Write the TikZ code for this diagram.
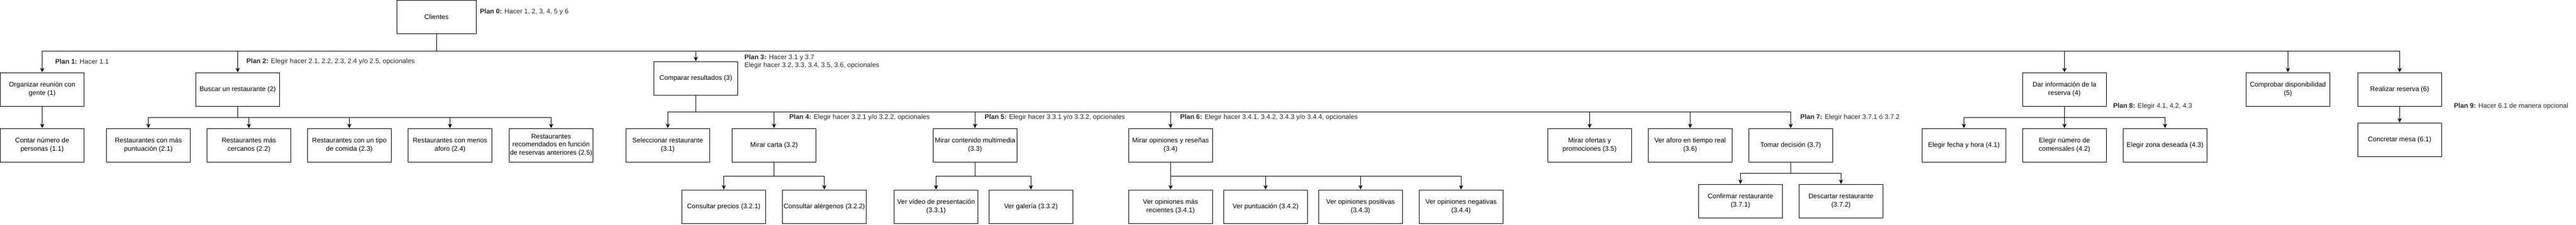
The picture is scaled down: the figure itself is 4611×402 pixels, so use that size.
\documentclass[tikz,border=0pt]{standalone}
\usepackage{fontspec}
\setmainfont{Liberation Sans}
\usetikzlibrary{arrows.meta}
\tikzset{
  box/.style={draw, line width=1pt, minimum width=150pt, minimum height=60pt, inner sep=0pt, align=center, font=\fontsize{12}{14.4}\selectfont},
  plan/.style={anchor=west, inner sep=0pt, align=left, font=\fontsize{12}{14}\selectfont, text=black!85},
  arr/.style={line width=1pt, -{Stealth[length=8pt,width=7.5pt,inset=2.5pt]}},
  ln/.style={line width=1pt}
}
\begin{document}
\begin{tikzpicture}[x=1pt,y=1pt]
\useasboundingbox (0,0) rectangle (4611,-402);
% top
\node[box, minimum width=142pt] (c0) at (781.4,-30.5) {Clientes};
% level 1
\node[box] (n1) at (75.5,-160) {Organizar reunión con\\gente (1)};
\node[box] (n2) at (425.5,-160) {Buscar un restaurante (2)};
\node[box] (n3) at (1245.5,-140) {Comparar resultados (3)};
\node[box] (n4) at (3695.3,-160) {Dar información de la\\reserva (4)};
\node[box] (n5) at (4095.3,-160) {Comprobar disponibilidad\\(5)};
\node[box] (n6) at (4295.3,-160) {Realizar reserva (6)};
% level 2
\node[box] (n11) at (75.5,-260) {Contar número de\\personas (1.1)};
\node[box] (n21) at (265.6,-260) {Restaurantes con más\\puntuación (2.1)};
\node[box] (n22) at (445.5,-260) {Restaurantes más\\cercanos (2.2)};
\node[box] (n23) at (625.3,-260) {Restaurantes con un tipo\\de comida (2.3)};
\node[box] (n24) at (805.5,-260) {Restaurantes con menos\\aforo (2.4)};
\node[box] (n25) at (986.5,-260) {Restaurantes\\recomendados en función\\de reservas anteriores (2.5)};
\node[box] (n31) at (1195.3,-260) {Seleccionar restaurante\\(3.1)};
\node[box] (n32) at (1385.5,-260) {Mirar carta (3.2)};
\node[box] (n33) at (1745.3,-260) {Mirar contenido multimedia\\(3.3)};
\node[box] (n34) at (2095.3,-260) {Mirar opiniones y reseñas\\(3.4)};
\node[box] (n35) at (2845.3,-260) {Mirar ofertas y\\promociones (3.5)};
\node[box] (n36) at (3025.3,-260) {Ver aforo en tiempo real\\(3.6)};
\node[box] (n37) at (3205.3,-260) {Tomar decisión (3.7)};
\node[box] (n41) at (3515.3,-260) {Elegir fecha y hora (4.1)};
\node[box] (n42) at (3695.3,-260) {Elegir número de\\comensales (4.2)};
\node[box] (n43) at (3875.3,-260) {Elegir zona deseada (4.3)};
\node[box] (n61) at (4295.3,-250) {Concretar mesa (6.1)};
% level 3
\node[box] (n321) at (1295.5,-370) {Consultar precios (3.2.1)};
\node[box] (n322) at (1475.5,-370) {Consultar alérgenos (3.2.2)};
\node[box] (n331) at (1675.5,-370) {Ver vídeo de presentación\\(3.3.1)};
\node[box] (n332) at (1845.3,-370) {Ver galería (3.3.2)};
\node[box] (n341) at (2095.3,-370) {Ver opiniones más\\recientes (3.4.1)};
\node[box] (n342) at (2265.3,-370) {Ver puntuación (3.4.2)};
\node[box] (n343) at (2435.3,-370) {Ver opiniones positivas\\(3.4.3)};
\node[box] (n344) at (2615.3,-370) {Ver opiniones negativas\\(3.4.4)};
\node[box] (n371) at (3115.3,-360) {Confirmar restaurante\\(3.7.1)};
\node[box] (n372) at (3295.3,-360) {Descartar restaurante\\(3.7.2)};
% plan labels
\node[plan] (p0) at (859,-21) {\textbf{Plan 0:} Hacer 1, 2, 3, 4, 5 y 6};
\node[plan] (p1) at (98.7,-110) {\textbf{Plan 1:} Hacer 1.1};
\node[plan] (p2) at (441,-110) {\textbf{Plan 2:} Elegir hacer 2.1, 2.2, 2.3, 2.4 y/o 2.5, opcionales};
\node[plan] (p3) at (1332.3,-110.7) {\textbf{Plan 3:} Hacer 3.1 y 3.7\\Elegir hacer 3.2, 3.3, 3.4, 3.5, 3.6, opcionales};
\node[plan] (p4) at (1412.7,-210.7) {\textbf{Plan 4:} Elegir hacer 3.2.1 y/o 3.2.2, opcionales};
\node[plan] (p5) at (1762.3,-210.7) {\textbf{Plan 5:} Elegir hacer 3.3.1 y/o 3.3.2, opcionales};
\node[plan] (p6) at (2112.3,-210.7) {\textbf{Plan 6:} Elegir hacer 3.4.1, 3.4.2, 3.4.3 y/o 3.4.4, opcionales};
\node[plan] (p7) at (3222.3,-210.7) {\textbf{Plan 7:} Elegir hacer 3.7.1 ó 3.7.2};
\node[plan] (p8) at (3782.3,-190.7) {\textbf{Plan 8:} Elegir 4.1, 4.2, 4.3};
\node[plan] (p9) at (4392.3,-190.7) {\textbf{Plan 9:} Hacer 6.1 de manera opcional};
% connectors level 0 -> 1
\foreach \t in {n1,n2,n3,n4,n5,n6}
  \draw[arr] (c0.south) -- ++(0,-30) -| (\t.north);
% 1 -> 1.1
\draw[arr] (n1.south) -- (n11.north);
% 2 -> 2.x
\foreach \t in {n21,n22,n23,n24,n25}
  \draw[arr] (n2.south) -- ++(0,-20) -| (\t.north);
% 3 -> 3.x
\foreach \t in {n31,n32,n33,n34,n35,n36,n37}
  \draw[arr] (n3.south) -- ++(0,-30) -| (\t.north);
% 3.2, 3.3, 3.4
\foreach \t in {n321,n322}
  \draw[arr] (n32.south) -- ++(0,-25) -| (\t.north);
\foreach \t in {n331,n332}
  \draw[arr] (n33.south) -- ++(0,-25) -| (\t.north);
\foreach \t in {n341,n342,n343,n344}
  \draw[arr] (n34.south) -- ++(0,-25) -| (\t.north);
% 3.7
\foreach \t in {n371,n372}
  \draw[arr] (n37.south) -- ++(0,-20) -| (\t.north);
% 4
\foreach \t in {n41,n42,n43}
  \draw[arr] (n4.south) -- ++(0,-20) -| (\t.north);
% 6
\draw[arr] (n6.south) -- (n61.north);
\end{tikzpicture}
\end{document}
